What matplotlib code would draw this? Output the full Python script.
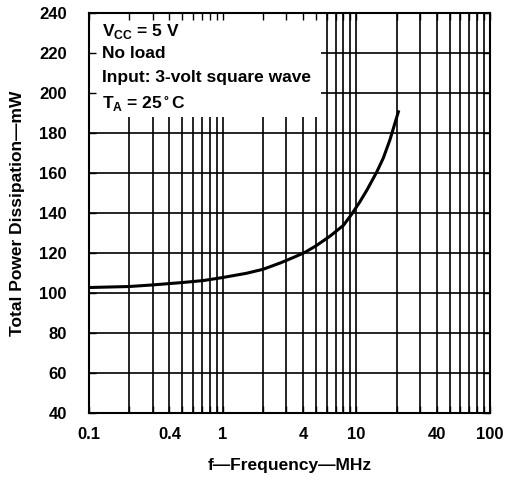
import matplotlib
matplotlib.use('Agg')
import matplotlib.pyplot as plt
from matplotlib.patches import Rectangle
from matplotlib.ticker import FixedLocator, LogLocator, NullFormatter

plt.rcParams['font.family'] = ['Liberation Sans', 'DejaVu Sans']
plt.rcParams['font.weight'] = 'bold'

# curve
freq_mhz = [0.1, 0.2, 0.3, 0.5, 0.72, 1.0, 1.5, 2.0, 2.7, 3.4, 4.1, 5.0, 6.35, 8.0,
            9.2, 10.6, 12.0, 14.2, 15.9, 17.8, 20.6]
power_mw = [102.7, 103.2, 104, 105.2, 106.2, 107.7, 109.8, 111.8, 115, 117.8, 120.2,
            123.6, 128.4, 133.8, 139.3, 145.5, 151.5, 160.5, 167.5, 176.5, 190.6]

x_ticks = [0.1, 0.4, 1, 4, 10, 40, 100]
x_labels = ['0.1', '0.4', '1', '4', '10', '40', '100']
y_ticks = list(range(40, 241, 20))
notes = ['V$_{\\mathregular{CC}}$ = 5 V', 'No load', 'Input: 3-volt square wave',
         'T$_{\\mathregular{A}}$ = 25$\\mathregular{^\\circ}$C']

fig = plt.figure(figsize=(5.17, 4.84), dpi=100)
pos = [0.172, 0.147, 0.776, 0.826]

# background axes only carries the grid
axg = fig.add_axes(pos)
axg.set_xscale('log')
axg.set_xlim(0.1, 100)
axg.set_ylim(40, 240)
axg.xaxis.set_major_locator(LogLocator(base=10, subs=range(1, 10)))
axg.xaxis.set_minor_locator(FixedLocator([]))
axg.yaxis.set_major_locator(FixedLocator(y_ticks))
axg.grid(True, which='major', color='black', linewidth=1.2)
axg.tick_params(length=0, labelbottom=False, labelleft=False)
for s in axg.spines.values():
    s.set_visible(False)

ax = fig.add_axes(pos)
ax.patch.set_alpha(0)
ax.set_xscale('log')
ax.set_xlim(0.1, 100)
ax.set_ylim(40, 240)
ax.set_xticks(x_ticks)
ax.set_xticklabels(x_labels)
ax.xaxis.set_minor_locator(LogLocator(base=10, subs=range(2, 10)))
ax.xaxis.set_minor_formatter(NullFormatter())
ax.set_yticks(y_ticks)
ax.tick_params(which='both', direction='in', top=True, right=True, length=5,
               width=1.0, labelsize=12)
ax.tick_params(axis='y', pad=16)
ax.tick_params(axis='x', pad=10)
for s in ax.spines.values():
    s.set_linewidth(1.5)

# white box with the test conditions, hides grid but not ticks
ax.add_patch(Rectangle((0, 0.74), 0.579, 0.26, transform=ax.transAxes,
                       facecolor='white', edgecolor='none', zorder=1))
for i, t in enumerate(notes):
    ax.text(0.032, 0.977 - i * 0.06, t, transform=ax.transAxes, fontsize=12.5,
            fontweight='bold', va='top', ha='left', zorder=3)

ax.plot(freq_mhz, power_mw, color='black', linewidth=2.2, zorder=2)

ax.set_xlabel('f\u2014Frequency\u2014MHz', fontsize=12.5, fontweight='bold', labelpad=12)
ax.set_ylabel('Total Power Dissipation\u2014mW', fontsize=12.5, fontweight='bold', labelpad=10)

fig.savefig('out.png', dpi=100)
